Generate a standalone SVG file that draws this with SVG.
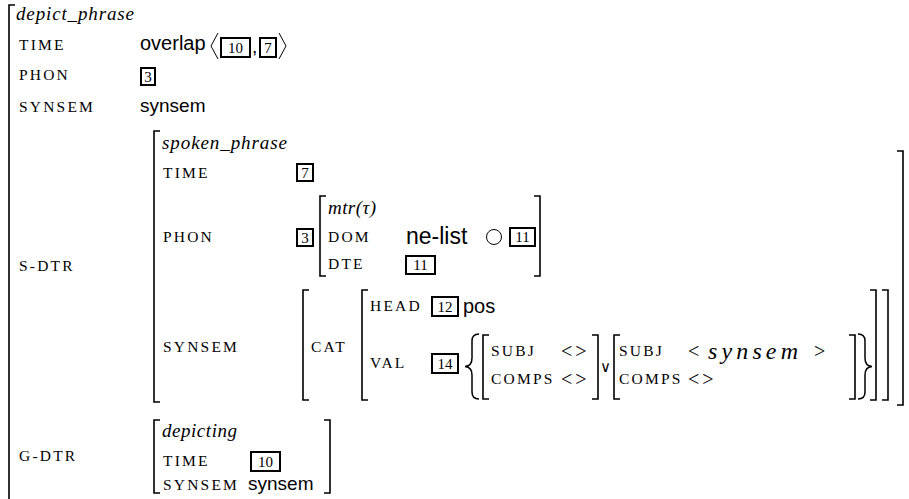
<svg xmlns="http://www.w3.org/2000/svg" width="909" height="499" viewBox="0 0 909 499">
<style>
.sc{font-family:"Liberation Serif",serif;font-size:15.5px;letter-spacing:2.2px;fill:#000}
.it{font-family:"Liberation Serif",serif;font-style:italic;font-size:19px;fill:#000}
.sf{font-family:"Liberation Sans",sans-serif;font-size:19px;fill:#000}
.tg{font-family:"Liberation Serif",serif;font-size:15px;fill:#000;text-anchor:middle}
.rm{font-family:"Liberation Serif",serif;font-size:20px;fill:#000}
.ang{font-family:"Liberation Serif",serif;font-size:20px;letter-spacing:3px;fill:#000}
.op{font-family:"DejaVu Sans",sans-serif;font-size:15px;fill:#000}
.br{fill:none;stroke:#000;stroke-width:1.6}
.bx{fill:none;stroke:#000;stroke-width:2}
.th{fill:none;stroke:#000;stroke-width:1}
</style>
<rect width="909" height="499" fill="#fff"/>
<g id="outer">
<path class="br" d="M15 5 H9 V499"/>
<text class="it" x="16" y="20" textLength="118">depict_phrase</text>
<text class="sc" x="19" y="50">TIME</text>
<text class="sf" x="140" y="50" style="font-size:20px">overlap</text>
<path class="th" d="M218 33 L211 46 L218 59"/>
<rect class="bx" x="221" y="38" width="29" height="19"/>
<text class="tg" x="235.5" y="53">10</text>
<text class="sf" x="252" y="53">,</text>
<rect class="bx" x="260" y="38" width="16" height="19"/>
<text class="tg" x="268" y="53">7</text>
<path class="th" d="M279 33 L286 46 L279 59"/>
<text class="sc" x="19" y="80">PHON</text>
<rect class="bx" x="141" y="68" width="14" height="17"/>
<text class="tg" x="148" y="82">3</text>
<text class="sc" x="19" y="112">SYNSEM</text>
<text class="sf" x="140" y="112">synsem</text>
<text class="sc" x="19" y="271">S-DTR</text>
<text class="sc" x="19" y="461">G-DTR</text>
</g>
<g id="s-dtr">
<path class="br" d="M160 131 H154 V402 H160"/>
<path class="br" d="M897 151 H903 V405 H897"/>
<text class="it" x="162" y="149" textLength="125">spoken_phrase</text>
<text class="sc" x="163" y="178">TIME</text>
<rect class="bx" x="297" y="164" width="16" height="17"/>
<text class="tg" x="305" y="178">7</text>
<text class="sc" x="163" y="242">PHON</text>
<rect class="bx" x="297" y="229" width="16" height="17"/>
<text class="tg" x="305" y="243">3</text>
<text class="sc" x="163" y="352">SYNSEM</text>
</g>
<g id="mtr">
<path class="br" d="M326 196 H320 V276 H326"/>
<path class="br" d="M534 196 H540 V276 H534"/>
<text class="it" x="328" y="214" textLength="48">mtr(τ)</text>
<text class="sc" x="328" y="242">DOM</text>
<text class="sf" x="406" y="244" style="font-size:23px">ne-list</text>
<circle class="th" cx="494" cy="237" r="7.5"/>
<rect class="bx" x="510" y="228" width="25" height="18"/>
<text class="tg" x="522.5" y="242">11</text>
<text class="sc" x="328" y="269">DTE</text>
<rect class="bx" x="406" y="256" width="29" height="18"/>
<text class="tg" x="420.5" y="270">11</text>
</g>
<g id="synsem">
<path class="br" d="M309 290 H303 V400 H309"/>
<path class="br" d="M870 290 H876 V400 H870"/>
<text class="sc" x="311" y="352">CAT</text>
<path class="br" d="M368 290 H362 V400 H368"/>
<path class="br" d="M882 290 H888 V400 H882"/>
<text class="sc" x="370" y="311">HEAD</text>
<rect class="bx" x="432" y="297" width="26" height="19"/>
<text class="tg" x="445" y="312">12</text>
<text class="sf" x="463" y="313" style="font-size:20px">pos</text>
<text class="sc" x="370" y="368">VAL</text>
<rect class="bx" x="432" y="354" width="26" height="19"/>
<text class="tg" x="445" y="369">14</text>
</g>
<g id="val">
<path class="th" d="M479 334 Q472 334 472 341 V358 Q472 366 465 366.5 Q472 367 472 375 V392 Q472 399 479 399" style="stroke-width:1.5"/>
<path class="br" d="M489 335 H483 V399 H489"/>
<text class="sc" x="491" y="356">SUBJ</text>
<text class="ang" x="561" y="358">&lt;&gt;</text>
<text class="sc" x="491" y="384">COMPS</text>
<text class="ang" x="561" y="386">&lt;&gt;</text>
<path class="br" d="M592 335 H598 V399 H592"/>
<text class="op" x="600" y="372">∨</text>
<path class="br" d="M620 335 H614 V399 H620"/>
<text class="sc" x="619" y="356">SUBJ</text>
<text class="rm" x="688" y="358">&lt;</text>
<text class="rm" x="708" y="359" style="font-size:24px;font-style:italic" textLength="90">synsem</text>
<text class="rm" x="814" y="358">&gt;</text>
<text class="sc" x="619" y="384">COMPS</text>
<text class="ang" x="688" y="386">&lt;&gt;</text>
<path class="br" d="M849 335 H855 V399 H849"/>
<path class="th" d="M858 334 Q865 334 865 341 V358 Q865 366 872 366.5 Q865 367 865 375 V392 Q865 399 858 399" style="stroke-width:1.5"/>
</g>
<g id="g-dtr">
<path class="br" d="M160 420 H154 V493 H160"/>
<path class="br" d="M324 420 H330 V493 H324"/>
<text class="it" x="162" y="437" textLength="75">depicting</text>
<text class="sc" x="163" y="466">TIME</text>
<rect class="bx" x="251" y="452" width="29" height="19"/>
<text class="tg" x="265.5" y="467">10</text>
<text class="sc" x="163" y="490">SYNSEM</text>
<text class="sf" x="248" y="490">synsem</text>
</g>
</svg>
